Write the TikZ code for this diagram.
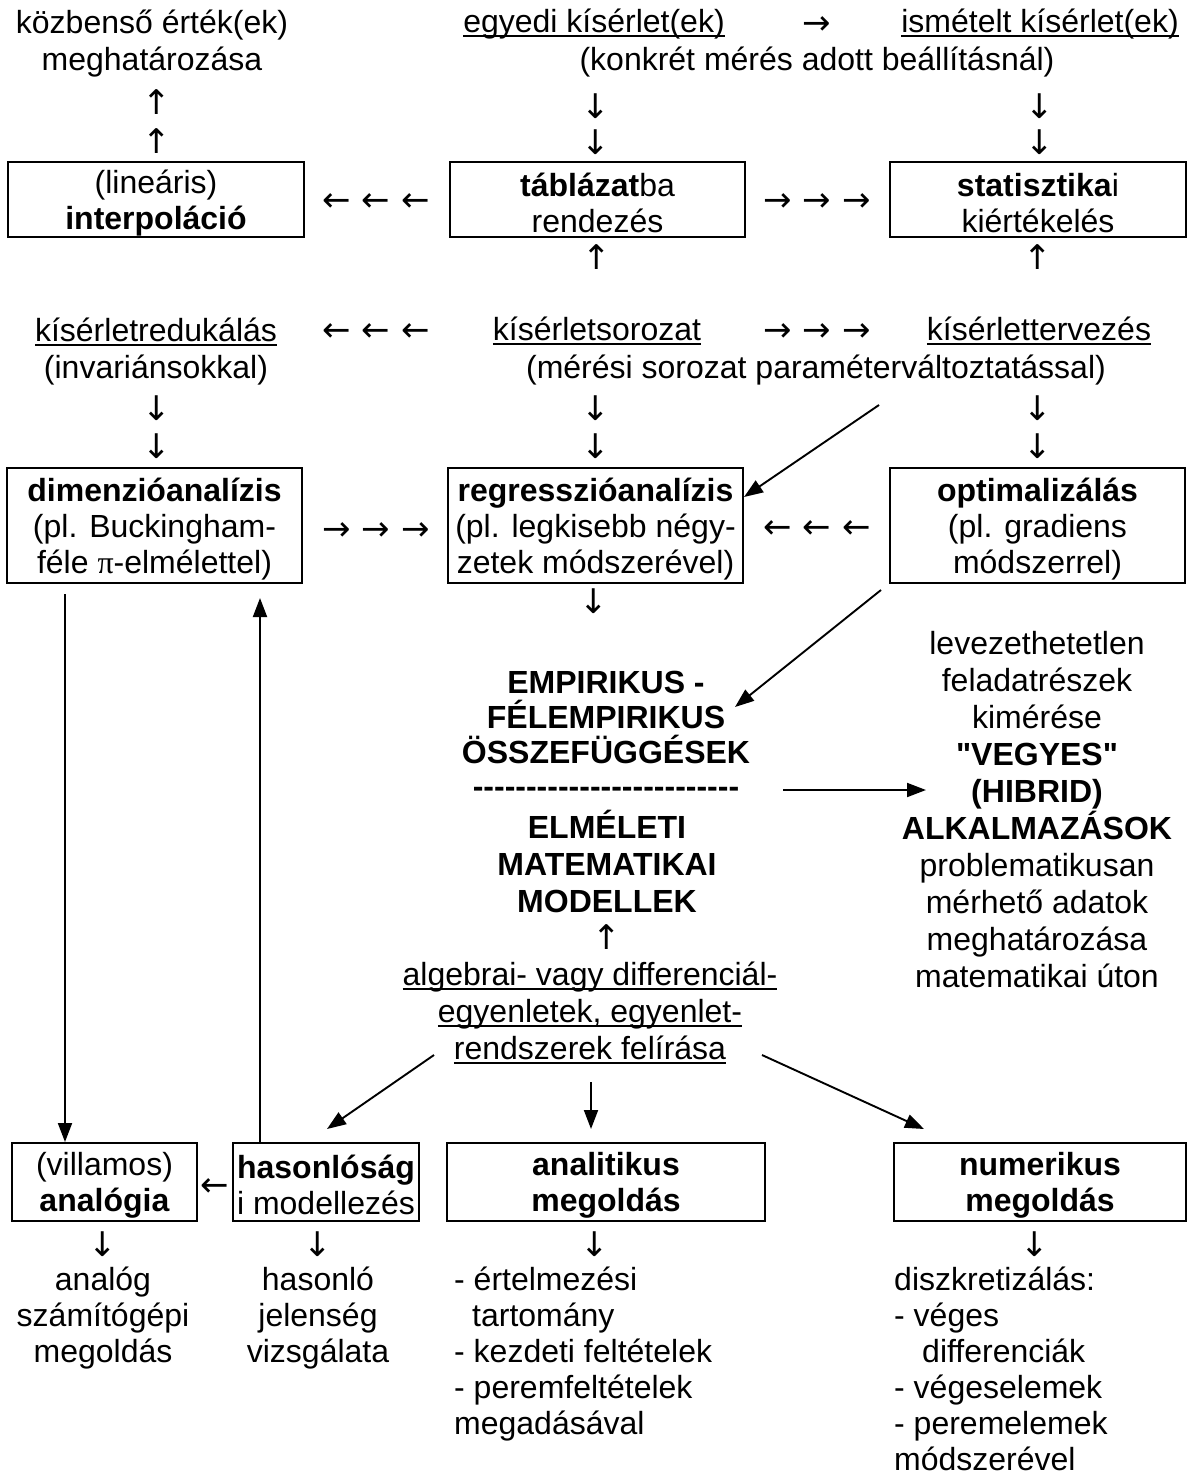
\documentclass[tikz,border=0pt]{standalone}
\usepackage{fontspec}
\setmainfont{Liberation Sans}
\newfontfamily\plainsans{Liberation Sans}
\newfontfamily\arrowfont{DejaVu Sans}
\newfontfamily\pifont{Liberation Serif}
\usetikzlibrary{arrows.meta,calc}
\newsavebox\ulbx
\newcommand\myul[1]{\sbox\ulbx{#1}\rlap{\rule[-5pt]{\wd\ulbx}{1.8pt}}\usebox\ulbx}
\newcommand\lll{←\hspace{11pt}←\hspace{11pt}←}
\newcommand\rrr{→\hspace{11pt}→\hspace{11pt}→}
\newcommand\tp{\rule{0pt}{30pt}}
\begin{document}
\begin{tikzpicture}[x=1pt,y=-1pt,
  txt/.style={font=\fontsize{32}{37}\selectfont, inner sep=0pt, align=center, anchor=base},
  lst/.style={font=\fontsize{32}{36}\selectfont, inner sep=0pt, align=left, anchor=base west},
  box/.style={draw, line width=2pt, font=\fontsize{32}{36}\selectfont, inner sep=0pt, align=center},
  arw/.style={font=\arrowfont\fontsize{34}{34}\selectfont, inner sep=0pt},
  big/.style={line width=1.9pt, -{Triangle[length=19pt,width=14pt]}}]
\useasboundingbox (0,0) rectangle (1190,1478);
\fill[white] (0,0) rectangle (1190,1478);

% ---------- row 1 (multi-line nodes anchored at last baseline) ----------
\node[txt] (kozb) at (152,70) {közbenső érték(ek)\\meghatározása};
\node[txt] (egyedi) at (594,32) {\myul{egyedi kísérlet(ek)}};
\node[arw] (ra0) at (817,26) {→};
\node[txt] (ismet) at (1040,32) {\myul{ismételt kísérlet(ek)}};
\node[txt] (konkret) at (817,70) {(konkrét mérés adott beállításnál)};
\node[arw] (u1) at (157,102) {↑};
\node[arw] (u2) at (157,141) {↑};
\node[arw] (d1) at (596,106) {↓};
\node[arw] (d2) at (596,142) {↓};
\node[arw] (d3) at (1040,106) {↓};
\node[arw] (d4) at (1040,142) {↓};

\node[box, minimum width=296, minimum height=75] (interp) at (156,199.5) {\tp(lineáris)\\\textbf{interpoláció}};
\node[arw] (l1) at (376,203) {\lll};
\node[box, minimum width=295, minimum height=75] (tabl) at (597.5,199.5) {\tp\textbf{táblázat}ba\\rendezés};
\node[arw] (r1) at (817,203) {\rrr};
\node[box, minimum width=296, minimum height=75] (stat) at (1038,199.5) {\tp\textbf{statisztika}i\\kiértékelés};
\node[arw] (u3) at (597,257) {↑};
\node[arw] (u4) at (1038,257) {↑};

% ---------- row 2 ----------
\node[txt] (kisred) at (156,378) {\myul{kísérletredukálás}\\(invariánsokkal)};
\node[arw] (l2) at (376,333) {\lll};
\node[txt] (kissor) at (597,340) {\myul{kísérletsorozat}};
\node[arw] (r2) at (817,333) {\rrr};
\node[txt] (kister) at (1039,340) {\myul{kísérlettervezés}};
\node[txt] (meresi) at (816,378) {(mérési sorozat paraméterváltoztatással)};
\node[arw] (d5) at (157,408) {↓};
\node[arw] (d6) at (157,446) {↓};
\node[arw] (d7) at (596,408) {↓};
\node[arw] (d8) at (596,446) {↓};
\node[arw] (d9) at (1038,408) {↓};
\node[arw] (d10) at (1038,446) {↓};

\node[box, minimum width=295, minimum height=115] (dim) at (154.5,525.5) {\tp\textbf{dimenzióanalízis}\\(pl. Buckingham-\\féle {\pifont π}-elmélettel)};
\node[arw] (r3) at (376,532) {\rrr};
\node[box, minimum width=295, minimum height=115] (regr) at (595.5,525.5) {\tp\textbf{regresszióanalízis}\\(pl. legkisebb négy-\\zetek módszerével)};
\node[arw] (l3) at (817,530) {\lll};
\node[box, minimum width=295, minimum height=115] (opt) at (1037.5,525.5) {\tp\textbf{optimalizálás}\\(pl. gradiens\\módszerrel)};
\node[arw] (d11) at (594,601) {↓};

\coordinate (c1) at (879,405);
\draw[big] (c1) -- ($(regr.north east)+(0,30)$);
\coordinate (c2) at (881,590);
\coordinate (c2e) at (735,707);
\draw[big] (c2) -- (c2e);

% ---------- middle ----------
\node[txt, font=\bfseries\fontsize{32}{35}\selectfont] (emp) at (606,763) {EMPIRIKUS -\\FÉLEMPIRIKUS\\ÖSSZEFÜGGÉSEK};
\node[txt, font=\plainsans\bfseries\fontsize{32}{36}\selectfont, anchor=center] (sep) at (606,792) {-------------------------};
\node[txt, font=\bfseries\fontsize{32}{37}\selectfont] (elm) at (607,912) {ELMÉLETI\\MATEMATIKAI\\MODELLEK};
\node[arw] (u5) at (607,937) {↑};
\node[txt] (alg) at (590,1059) {\myul{algebrai- vagy differenciál-}\\\myul{egyenletek, egyenlet-}\\\myul{rendszerek felírása}};

\node[txt] (rc) at (1037,987) {levezethetetlen\\feladatrészek\\kimérése\\{\plainsans\bfseries "VEGYES"}\\\textbf{(HIBRID)}\\\textbf{ALKALMAZÁSOK}\\problematikusan\\mérhető adatok\\meghatározása\\matematikai úton};
\coordinate (c3) at (783,790);
\coordinate (c3e) at (926,790);
\draw[big] (c3) -- (c3e);

% ---------- bottom boxes ----------
\node[box, minimum width=185, minimum height=78] (vill) at (104.5,1182) {\tp(villamos)\\\textbf{analógia}};
\node[box, minimum width=186, minimum height=78] (haso) at (326,1182) {\tp\textbf{hasonlóság}\\i modellezés};
\node[box, minimum width=318, minimum height=78] (anal) at (606,1182) {\tp\textbf{analitikus}\\\textbf{megoldás}};
\node[box, minimum width=292, minimum height=78] (num) at (1040,1182) {\tp\textbf{numerikus}\\\textbf{megoldás}};
\node[arw] (l4) at (215,1188) {←};

\coordinate (c4) at (434,1055);
\draw[big] (c4) -- ($(haso.north)+(1,-13)$);
\coordinate (c5) at (591,1082);
\draw[big] (c5) -- ($(c5|-anal.north)+(0,-13)$);
\coordinate (c6) at (762,1055);
\draw[big] (c6) -- ($(num.north west)+(31,-13)$);

\coordinate (c7) at (65,594);
\draw[big] (c7) -- (c7|-vill.north);
\coordinate (c8) at (260,1143);
\draw[big] (c8) -- ($(c8|-dim.south)+(0,14)$);

\node[arw] (d12) at (103,1244) {↓};
\node[arw] (d13) at (318,1244) {↓};
\node[arw] (d14) at (595,1244) {↓};
\node[arw] (d15) at (1035,1244) {↓};

\node[txt, font=\fontsize{32}{36}\selectfont] (analog) at (103,1362) {analóg\\számítógépi\\megoldás};
\node[txt, font=\fontsize{32}{36}\selectfont] (hasonlo) at (318,1362) {hasonló\\jelenség\\vizsgálata};
\node[lst] (alist) at (454,1434) {- értelmezési\\\hspace*{18pt}tartomány\\- kezdeti feltételek\\- peremfeltételek\\megadásával};
\node[lst] (nlist) at (894,1470) {diszkretizálás:\\- véges\\\hspace*{28pt}differenciák\\- végeselemek\\- peremelemek\\módszerével};
\end{tikzpicture}
\end{document}
